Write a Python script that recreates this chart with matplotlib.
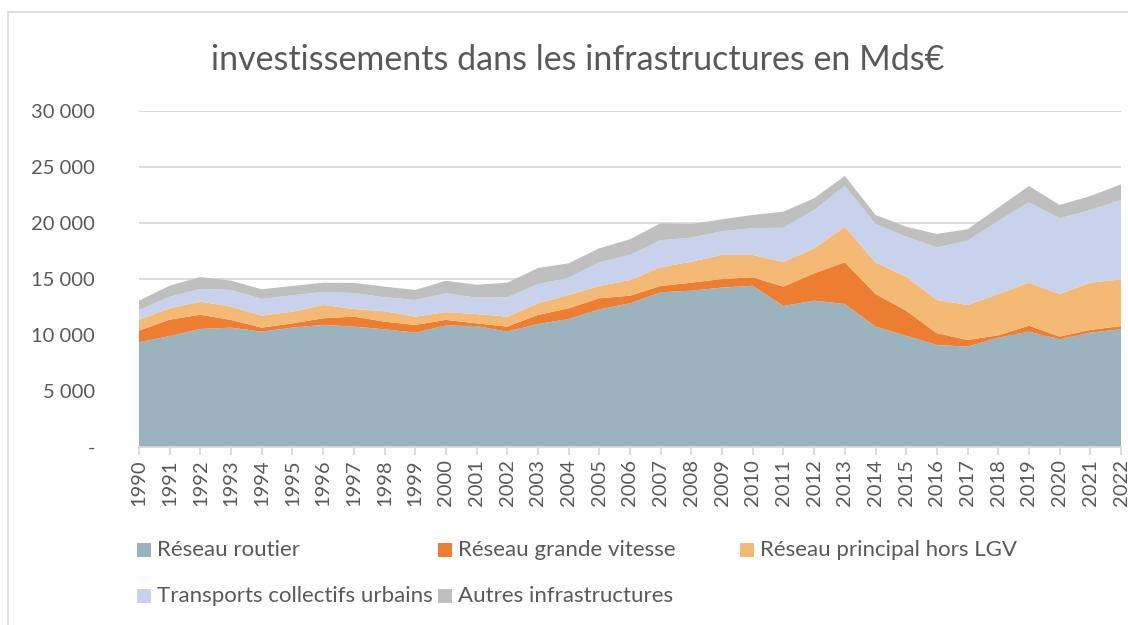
import matplotlib
matplotlib.use("Agg")
import matplotlib.pyplot as plt
from matplotlib.patches import Rectangle
from matplotlib.lines import Line2D
from matplotlib.ticker import FuncFormatter

years = list(range(1990, 2023))

reseau_routier = [9350, 9910, 10540, 10660, 10300, 10660, 10900, 10750, 10510, 10210,
                  10850, 10800, 10300, 10980, 11430, 12290, 12830, 13810, 13960, 14230,
                  14400, 12590, 13070, 12770, 10750, 9940, 9110, 8960, 9760, 10300,
                  9620, 10210, 10510]
reseau_lgv = [1040, 1460, 1270, 680, 360, 380, 590, 890, 680, 690,
              500, 240, 450, 810, 950, 990, 680, 570, 710, 770,
              750, 1730, 2440, 3720, 2910, 2230, 1040, 600, 210, 530,
              230, 240, 290]
reseau_principal = [980, 1010, 1170, 1190, 1070, 1040, 1190, 680, 930, 740,
                    690, 830, 890, 1040, 1190, 1100, 1400, 1670, 1880, 2150,
                    2000, 2200, 2230, 3180, 2830, 3040, 2980, 3120, 3690, 3840,
                    3810, 4220, 4170]
transports_urbains = [860, 1040, 1130, 1490, 1490, 1470, 1160, 1430, 1250, 1490,
                      1690, 1460, 1730, 1700, 1550, 2110, 2240, 2410, 2140, 2120,
                      2390, 3060, 3420, 3640, 3420, 3570, 4700, 5740, 6520, 7180,
                      6760, 6490, 7080]
autres = [840, 980, 1070, 830, 860, 830, 830, 900, 950, 890,
          1110, 1160, 1300, 1450, 1280, 1250, 1400, 1520, 1220, 1060,
          1180, 1430, 1050, 890, 810, 890, 1190, 1020, 1190, 1460,
          1190, 1250, 1400]

labels = ["Réseau routier", "Réseau grande vitesse", "Réseau principal hors LGV",
          "Transports collectifs urbains", "Autres infrastructures"]
colors = ["#9AB3BF", "#ED7D31", "#F4B975", "#C9D2EC", "#BFBFBF"]
title = "investissements dans les infrastructures en Mds€"
yticks = [0, 5000, 10000, 15000, 20000, 25000, 30000]

plt.rcParams['font.family'] = ['Lato', 'DejaVu Sans']
txt = "#595959"

fig = plt.figure(figsize=(11.28, 6.25), dpi=100)
ax = fig.add_axes([139/1128, 1-447/625, (1121-139)/1128, (447-111)/625])

series = [reseau_routier, reseau_lgv, reseau_principal, transports_urbains, autres]
ax.stackplot(years, *series, colors=colors, labels=labels, linewidth=0, zorder=2)

ax.set_xlim(1990, 2022)
ax.set_ylim(0, 30000)
ax.set_yticks(yticks)
ax.yaxis.set_major_formatter(FuncFormatter(lambda v, p: "-" if v == 0 else f"{int(v):,}".replace(",", " ")))
ax.set_xticks(years)
ax.set_xticklabels([str(y) for y in years], rotation=90)
ax.grid(axis='y', color="#D9D9D9", linewidth=1.3, zorder=0)
ax.set_axisbelow(True)
for s in ['top', 'right', 'left']:
    ax.spines[s].set_visible(False)
ax.spines['bottom'].set_color("#D9D9D9")
ax.spines['bottom'].set_linewidth(1.3)
ax.spines['bottom'].set_zorder(3)
ax.tick_params(axis='y', length=0, labelsize=14.5, labelcolor=txt, pad=(139-95) * 72 / 100)
ax.tick_params(axis='x', length=6, color="#D9D9D9", width=1.3, labelsize=14.5, labelcolor=txt, pad=3)

fig.text(578/1128, 1-60/625, title, ha='center', va='center', fontsize=24.5,
         fontweight='normal', color=txt)

# legend (3-column grid, row-major)
pos = [(137, 550), (438, 550), (740, 550), (137, 596), (438, 596)]
for (px, py), lab, col in zip(pos, labels, colors):
    fig.add_artist(Rectangle((px/1128, 1-(py+7)/625), 14/1128, 14/625,
                             transform=fig.transFigure, facecolor=col, edgecolor='none'))
    fig.text((px+20)/1128, 1-py/625, lab, ha='left', va='center', fontsize=16, color=txt)

# chart frame
fig.add_artist(Line2D([8/1128, 8/1128], [0, 1-12/625], transform=fig.transFigure, color="#D9D9D9", lw=1.2))
fig.add_artist(Line2D([8/1128, 1], [1-12/625, 1-12/625], transform=fig.transFigure, color="#D9D9D9", lw=1.2))

fig.savefig("out.png", dpi=100)
